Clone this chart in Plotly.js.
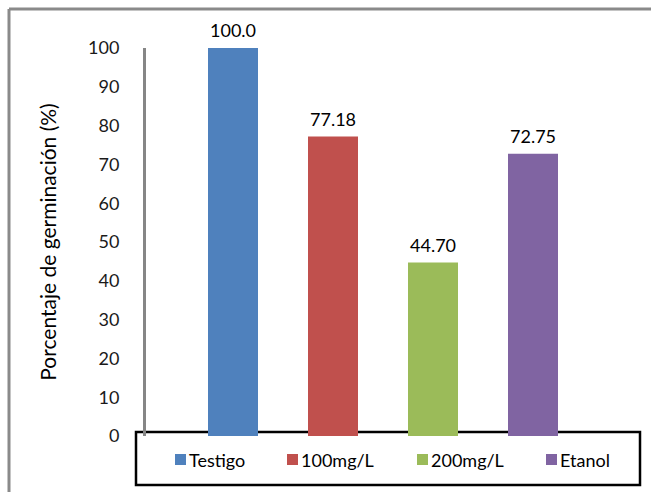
<!DOCTYPE html>
<html><head><meta charset="utf-8">
<script src="https://cdn.plot.ly/plotly-3.0.1.min.js"></script>
<style>html,body{margin:0;padding:0;background:#fff;}#chart{width:651px;height:492px;}</style>
</head><body><div id="chart"></div>
<script>
// ---- data ----
var categories = ["Testigo", "100mg/L", "200mg/L", "Etanol"];
var values = [100.0, 77.18, 44.70, 72.75];
var labels = ["100.0", "77.18", "44.70", "72.75"];
var colors = ["#4F81BD", "#C0504D", "#9BBB59", "#8064A2"];
var yTicks = [0, 10, 20, 30, 40, 50, 60, 70, 80, 90, 100];
var yTitle = "Porcentaje de germinación (%)";

// ---- layout helpers (pixel positions of the legend entries) ----
var legendSquareX = [175, 287, 417, 546];
var FONT = "Lato, sans-serif";
var L = 146, R = 31, T = 48, B = 56;
var W = 651 - L - R, H = 492 - T - B;
function px(x) { return (x - L) / W; }
function py(y) { return (492 - B - y) / H; }

var traces = categories.map(function (c, i) {
  return {
    type: "bar", name: c, x: [i], y: [values[i]], width: 0.5,
    marker: { color: colors[i] }, hoverinfo: "y", showlegend: false
  };
});

var annotations = categories.map(function (c, i) {
  return {
    x: i, y: values[i], xref: "x", yref: "y", text: labels[i],
    showarrow: false, yanchor: "bottom", xanchor: "center", yshift: 5,
    font: { family: FONT, size: 18, color: "#000" }
  };
});
categories.forEach(function (c, i) {
  annotations.push({
    xref: "paper", yref: "paper", x: px(legendSquareX[i] + 12), y: py(460),
    xanchor: "left", yanchor: "middle", text: c, showarrow: false,
    font: { family: FONT, size: 18, color: "#000" }
  });
});

var shapes = [
  { type: "rect", xref: "paper", yref: "paper", x0: px(136), x1: px(640), y0: py(432), y1: py(485),
    line: { color: "#000", width: 2.5 }, fillcolor: "rgba(0,0,0,0)", layer: "below" },
  { type: "line", xref: "paper", yref: "paper", x0: px(9), x1: px(700), y0: py(9), y1: py(9),
    line: { color: "#8a8a8a", width: 3 }, layer: "below" },
  { type: "line", xref: "paper", yref: "paper", x0: px(9), x1: px(9), y0: py(9), y1: py(540),
    line: { color: "#8a8a8a", width: 3 }, layer: "below" }
];
categories.forEach(function (c, i) {
  shapes.push({ type: "rect", xref: "paper", yref: "paper",
    x0: px(legendSquareX[i]), x1: px(legendSquareX[i] + 11), y0: py(454), y1: py(465),
    fillcolor: colors[i], line: { width: 0 }, layer: "above" });
});

var layout = {
  width: 651, height: 492,
  margin: { l: L, r: R, t: T, b: B, pad: 0 },
  paper_bgcolor: "#fff", plot_bgcolor: "#fff",
  barmode: "overlay", showlegend: false,
  font: { family: FONT, size: 18, color: "#000" },
  xaxis: { range: [-0.87, 3.87], showticklabels: false, showgrid: false, zeroline: false, showline: false, ticks: "" },
  yaxis: {
    range: [0, 100], tickvals: yTicks, ticktext: yTicks.map(String),
    showgrid: false, zeroline: false, showline: true, linecolor: "#868686", linewidth: 3,
    ticks: "", ticklabelstandoff: 20, automargin: false,
    tickfont: { family: FONT, size: 18, color: "#1a1a1a" },
    title: { text: yTitle, standoff: 26, font: { family: FONT, size: 21, color: "#000" } }
  },
  annotations: annotations,
  shapes: shapes
};

Plotly.newPlot("chart", traces, layout, { displayModeBar: false, staticPlot: true });
</script></body></html>
